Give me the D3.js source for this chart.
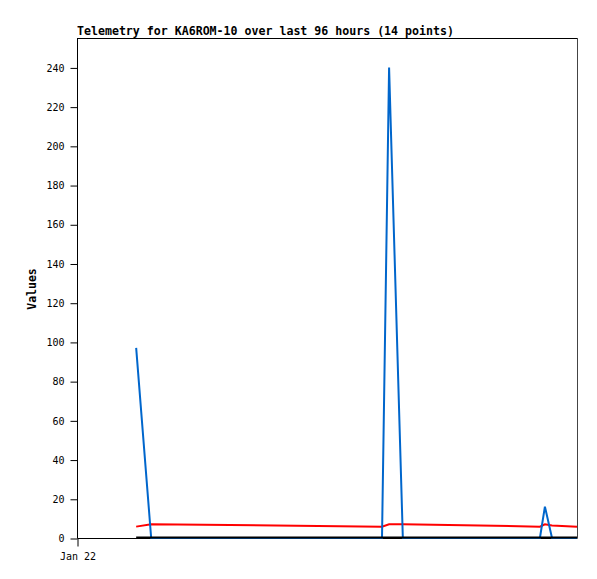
<!DOCTYPE html>
<html><head><meta charset="utf-8">
<script src="https://cdn.jsdelivr.net/npm/d3@7"></script>
<style>body{margin:0;background:#fff}svg{display:block}</style>
</head><body>
<svg id="c" width="597" height="579"></svg>
<script>
const title = "Telemetry for KA6ROM-10 over last 96 hours (14 points)";
const yLabel = "Values";
const times = ["2024-01-22T02:22","2024-01-22T02:58","2024-01-22T12:12","2024-01-22T12:29","2024-01-22T13:02","2024-01-22T18:31","2024-01-22T18:43","2024-01-22T19:00","2024-01-22T20:00"];
const seriesBlue = [97, 0, 0, 240, 0, 0, 16, 0, 0];
const seriesRed = [5.8, 7.0, 5.8, 7.0, 7.0, 5.8, 7.0, 6.4, 5.8];
const seriesBlack = [0, 0, 0, 0, 0, 0, 0, 0, 0];
const yTicks = [0,20,40,60,80,100,120,140,160,180,200,220,240];
const xTicks = ["2024-01-22T00:00"];
const domainX = ["2024-01-22T00:00","2024-01-22T20:00"];
const yDomain = [0, 255];

const parse = d3.isoParse;
const svg = d3.select("#c");
const L=77, R=577, T=38, B=538;
const x = d3.scaleTime().domain(domainX.map(s=>new Date(s))).range([L,R]);
const y = d3.scaleLinear().domain(yDomain).range([B,T]);
const mono = "'DejaVu Sans Mono', monospace";

// frame
svg.append("line").attr("x1",L).attr("x2",R).attr("y1",T+0.5).attr("y2",T+0.5).attr("stroke","#000");
svg.append("line").attr("x1",R+0.5).attr("x2",R+0.5).attr("y1",T).attr("y2",B).attr("stroke","#444");

const yAxis = d3.axisLeft(y).tickValues(yTicks).tickSize(7).tickPadding(6).tickFormat(d3.format("d"));
const gy = svg.append("g").attr("transform",`translate(${L+0.5},0.5)`).call(yAxis);
gy.selectAll("text").attr("font-family",mono).attr("font-size","10px").attr("fill","#000");
gy.selectAll("line,path").attr("stroke","#000");
gy.select(".domain").attr("d",`M0,${T}V${B}`);

const xAxis = d3.axisBottom(x).tickValues(xTicks.map(s=>new Date(s))).tickSize(8).tickPadding(6).tickFormat(d3.timeFormat("%b %d"));
const gx = svg.append("g").attr("transform",`translate(0.5,${B+0.5})`).call(xAxis);
gx.selectAll("text").attr("font-family",mono).attr("font-size","10px").attr("fill","#000");
gx.selectAll("line,path").attr("stroke","#000");
gx.select(".domain").attr("d",`M${L},0H${R}`);

const data = times.map((t,i)=>({t:parse(t), b:seriesBlue[i], r:seriesRed[i], k:seriesBlack[i]}));
const mk = key => d3.line().x(d=>x(d.t)).y(d=>y(d[key]));
svg.append("path").attr("d",mk("r")(data)).attr("fill","none").attr("stroke","#ff0000").attr("stroke-width",2);
svg.append("path").attr("d",mk("b")(data)).attr("fill","none").attr("stroke","#0066cc").attr("stroke-width",2);
svg.append("path").attr("d",mk("k")(data)).attr("fill","none").attr("stroke","#000").attr("stroke-width",2).attr("transform","translate(0,-0.5)");

svg.append("text").attr("x",L).attr("y",35).attr("font-family",mono).attr("font-weight","bold").attr("font-size","11.6px").text(title);
svg.append("text").attr("transform",`translate(36,289) rotate(-90)`).attr("text-anchor","middle").attr("font-family",mono).attr("font-weight","bold").attr("font-size","11.5px").text(yLabel);
</script>
</body></html>
